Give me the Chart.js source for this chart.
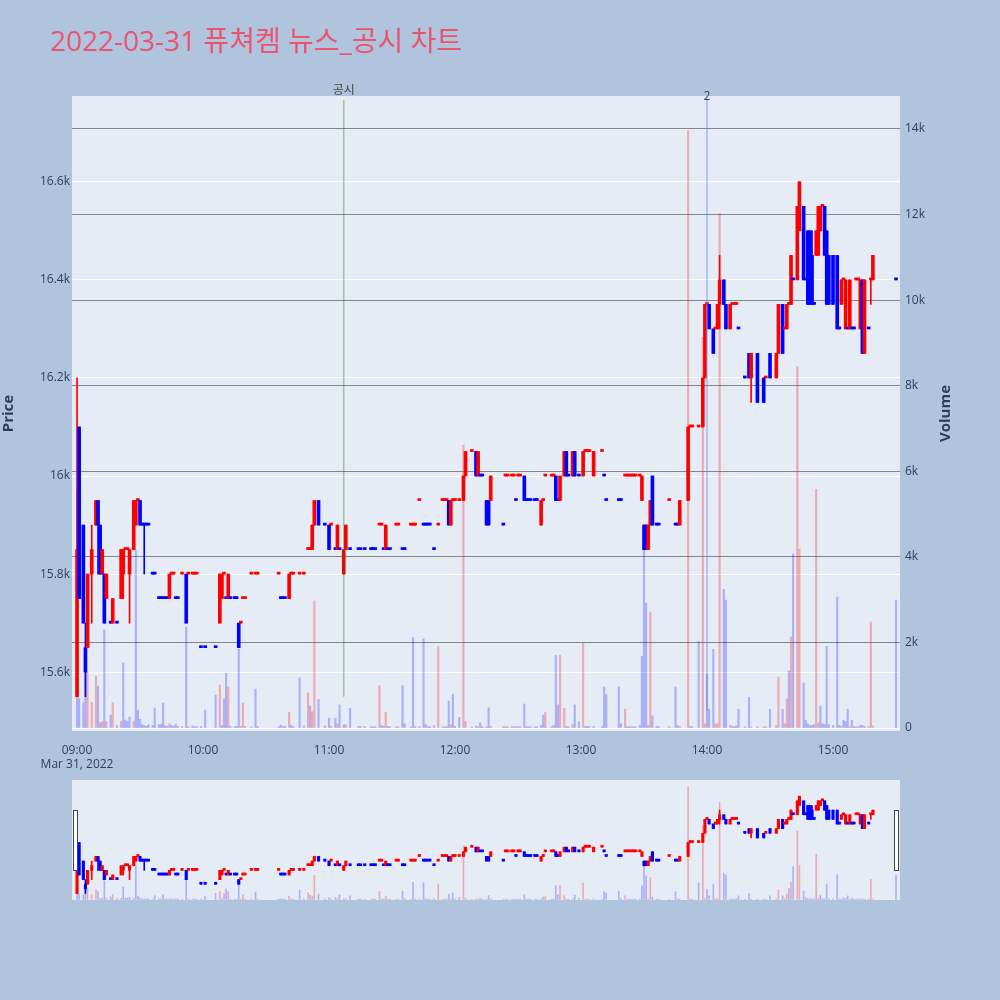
<!DOCTYPE html>
<html>
<head>
<meta charset="utf-8">
<script src="https://cdn.jsdelivr.net/npm/chart.js@4.4.1/dist/chart.umd.min.js"></script>
<style>
  html, body { margin: 0; padding: 0; background: #b0c4de; width: 1000px; height: 1000px; overflow: hidden; }
  canvas { position: absolute; }
</style>
</head>
<body>
<canvas id="main" width="1000" height="780" style="left:0;top:0"></canvas>
<canvas id="slider" width="828" height="120" style="left:72px;top:780px"></canvas>
<script>
// minutes after 09:00 for every traded minute
const minutes = [0,1,3,4,5,7,9,10,11,12,
  13,14,16,17,19,21,22,23,24,25,
  27,28,29,30,31,32,33,34,36,37,
  39,40,41,42,43,44,45,46,47,48,
  50,52,53,55,56,57,59,61,66,68,
  69,70,71,72,73,75,76,77,78,79,
  80,83,85,86,96,97,98,99,101,102,
  103,106,108,110,111,112,113,115,118,120,
  121,123,124,125,127,128,130,134,135,137,
  140,141,142,144,145,146,147,148,149,152,
  153,155,156,159,160,161,163,165,166,167,
  168,170,172,174,175,176,177,178,179,180,
  182,184,185,188,190,191,192,193,195,196,
  197,203,204,205,207,208,209,210,211,213,
  214,215,216,218,219,221,222,223,226,227,
  228,229,230,232,233,234,236,237,239,241,
  242,243,244,246,250,251,252,258,259,261,
  262,263,264,265,266,268,269,270,271,272,
  273,274,276,277,282,285,286,287,291,292,
  293,296,298,299,300,301,303,304,305,306,
  308,309,311,312,313,314,315,318,320,321,
  324,327,328,330,333,334,336,337,338,339,
  340,341,343,344,346,347,348,349,350,351,
  352,353,354,355,356,357,358,360,362,363,
  364,365,366,367,368,369,370,371,372,373,
  374,375,377,378,379,390];

const opens = [15550,16100,15900,15650,15650,15800,15900,15950,15900,15800,
  15800,15750,15700,15700,15700,15750,15800,15850,15850,15800,
  15850,15900,15950,15950,15900,15900,15900,15900,15800,15800,
  15750,15750,15750,15750,15750,15750,15800,15800,15750,15750,
  15800,15800,15800,15800,15800,15800,15650,15650,15650,15700,
  15750,15800,15750,15750,15750,15750,15750,15700,15700,15750,
  15750,15800,15800,15800,15800,15750,15750,15750,15750,15800,
  15800,15800,15800,15850,15850,15850,15900,15950,15900,15900,
  15900,15850,15850,15850,15800,15850,15850,15850,15850,15850,
  15850,15850,15850,15900,15900,15850,15850,15850,15850,15900,
  15900,15850,15850,15900,15900,15900,15950,15900,15900,15900,
  15900,15850,15900,15950,15950,15950,15950,15900,15950,15950,
  15950,15950,16000,16050,16050,16000,16000,16000,15950,15950,
  15950,15900,16000,16000,16000,16000,15950,16000,16000,16000,
  15950,15950,15950,15950,15950,15900,15950,16000,16000,16000,
  16000,15950,15950,16000,16050,16000,16000,16050,16000,16000,
  16050,16050,16050,16000,16050,16000,15950,15950,15950,16000,
  16000,16000,16000,16000,16000,16000,15950,15900,15900,15850,
  15900,16000,15900,15900,15950,15900,15900,15900,15950,16100,
  16100,16100,16100,16200,16350,16350,16300,16300,16300,16350,
  16400,16350,16300,16350,16350,16350,16300,16200,16250,16200,
  16250,16200,16200,16250,16200,16250,16350,16300,16300,16350,
  16350,16400,16400,16500,16550,16400,16500,16500,16450,16350,
  16450,16450,16500,16550,16550,16500,16450,16450,16450,16300,
  16350,16400,16300,16300,16300,16300,16300,16400,16400,16300,
  16400,16250,16300,16400,16400,16400];

const highs = [16200,16100,15900,15700,15800,15900,15950,15950,15900,15850,
  15800,15800,15700,15750,15700,15850,15850,15850,15850,15850,
  15950,15950,15950,15950,15900,15900,15900,15900,15800,15800,
  15750,15750,15750,15750,15750,15800,15800,15800,15750,15750,
  15800,15800,15800,15800,15800,15800,15650,15650,15650,15800,
  15800,15800,15750,15800,15750,15750,15750,15700,15700,15750,
  15750,15800,15800,15800,15800,15750,15750,15750,15800,15800,
  15800,15800,15800,15850,15850,15900,15950,15950,15900,15900,
  15900,15850,15900,15850,15850,15900,15850,15850,15850,15850,
  15850,15850,15850,15900,15900,15850,15900,15850,15850,15900,
  15900,15850,15850,15900,15900,15900,15950,15900,15900,15900,
  15900,15850,15900,15950,15950,15950,15950,15950,15950,15950,
  15950,16000,16050,16050,16050,16050,16000,16000,15950,15950,
  16000,15900,16000,16000,16000,16000,15950,16000,16000,16000,
  15950,15950,15950,15950,15950,15950,15950,16000,16000,16000,
  16000,15950,16000,16050,16050,16000,16050,16050,16000,16050,
  16050,16050,16050,16050,16050,16000,15950,15950,15950,16000,
  16000,16000,16000,16000,16000,16000,16000,15900,15900,15900,
  15950,16000,15900,15900,15950,15900,15900,15950,16100,16100,
  16100,16100,16200,16350,16350,16350,16300,16300,16350,16450,
  16400,16350,16350,16350,16350,16350,16300,16200,16250,16250,
  16250,16200,16200,16250,16250,16350,16350,16300,16350,16350,
  16450,16400,16550,16600,16550,16400,16500,16500,16500,16350,
  16500,16550,16550,16550,16550,16500,16450,16450,16450,16300,
  16400,16400,16400,16300,16400,16300,16300,16400,16400,16400,
  16400,16400,16300,16400,16450,16400];

const lows = [15550,15750,15700,15550,15650,15700,15900,15800,15800,15800,
  15700,15750,15700,15700,15700,15750,15750,15850,15850,15700,
  15850,15900,15950,15900,15900,15800,15900,15900,15800,15800,
  15750,15750,15750,15750,15750,15750,15800,15800,15750,15750,
  15800,15700,15800,15800,15800,15800,15650,15650,15650,15700,
  15750,15800,15750,15750,15750,15750,15750,15650,15700,15750,
  15750,15800,15800,15800,15800,15750,15750,15750,15750,15800,
  15800,15800,15800,15850,15850,15850,15900,15900,15900,15850,
  15900,15850,15850,15850,15800,15850,15850,15850,15850,15850,
  15850,15850,15850,15900,15900,15850,15850,15850,15850,15900,
  15900,15850,15850,15900,15900,15900,15950,15900,15900,15900,
  15900,15850,15900,15950,15950,15950,15900,15900,15950,15950,
  15950,15950,16000,16050,16000,16000,16000,16000,15900,15900,
  15950,15900,16000,16000,16000,16000,15950,16000,16000,15950,
  15950,15950,15950,15950,15950,15900,15950,16000,16000,16000,
  15950,15950,15950,16000,16000,16000,16000,16000,16000,16000,
  16050,16050,16050,16000,16050,16000,15950,15950,15950,16000,
  16000,16000,16000,16000,16000,16000,15950,15850,15850,15850,
  15900,15900,15900,15900,15950,15900,15900,15900,15950,16100,
  16100,16100,16100,16200,16350,16300,16250,16300,16300,16300,
  16350,16300,16300,16350,16350,16350,16300,16200,16200,16150,
  16150,16150,16200,16200,16200,16250,16250,16300,16300,16350,
  16350,16400,16400,16500,16400,16400,16350,16350,16350,16350,
  16450,16450,16500,16550,16450,16350,16350,16350,16300,16300,
  16350,16400,16300,16300,16300,16300,16300,16400,16400,16300,
  16250,16250,16300,16350,16400,16400];

const closes = [15850,15750,15700,15600,15800,15850,15950,15900,15800,15850,
  15700,15800,15700,15750,15700,15850,15850,15850,15850,15850,
  15950,15950,15950,15900,15900,15900,15900,15900,15800,15800,
  15750,15750,15750,15750,15750,15800,15800,15800,15750,15750,
  15800,15700,15800,15800,15800,15800,15650,15650,15650,15800,
  15800,15800,15750,15800,15750,15750,15750,15650,15700,15750,
  15750,15800,15800,15800,15800,15750,15750,15750,15800,15800,
  15800,15800,15800,15850,15850,15900,15950,15900,15900,15850,
  15900,15850,15900,15850,15850,15900,15850,15850,15850,15850,
  15850,15850,15850,15900,15900,15850,15900,15850,15850,15900,
  15900,15850,15850,15900,15900,15900,15950,15900,15900,15900,
  15900,15850,15900,15950,15950,15950,15900,15950,15950,15950,
  15950,16000,16050,16050,16000,16050,16000,16000,15900,15900,
  16000,15900,16000,16000,16000,16000,15950,16000,16000,15950,
  15950,15950,15950,15950,15950,15950,15950,16000,16000,16000,
  15950,15950,16000,16050,16000,16000,16050,16000,16000,16050,
  16050,16050,16050,16050,16050,16000,15950,15950,15950,16000,
  16000,16000,16000,16000,16000,16000,16000,15850,15850,15900,
  15950,15900,15900,15900,15950,15900,15900,15950,16100,16100,
  16100,16100,16200,16350,16350,16300,16250,16300,16350,16400,
  16350,16300,16350,16350,16350,16350,16300,16200,16200,16250,
  16150,16150,16200,16200,16250,16350,16250,16300,16350,16350,
  16450,16400,16550,16600,16400,16400,16350,16350,16350,16350,
  16500,16550,16550,16550,16450,16350,16350,16350,16300,16300,
  16400,16400,16400,16300,16400,16300,16300,16400,16400,16400,
  16250,16400,16300,16400,16450,16400];

const volumes = [5560,700,590,1420,1300,600,1210,980,120,150,
  2290,150,300,590,60,150,1520,190,150,260,
  160,4160,420,200,80,60,40,80,60,470,
  80,90,580,50,40,100,60,40,90,40,
  40,2360,30,50,30,30,40,420,770,1000,
  60,680,1280,960,40,30,40,1840,40,580,
  40,30,910,40,30,70,30,40,370,60,
  30,1170,50,820,510,380,2970,670,50,230,
  40,230,100,540,80,80,460,40,40,40,
  30,30,30,990,60,40,370,40,30,30,
  30,990,100,30,2120,30,40,2080,80,30,
  30,60,1900,30,30,30,630,80,790,40,
  250,6610,150,30,50,30,120,30,30,470,
  40,30,30,30,30,30,30,30,30,560,
  30,30,30,30,30,60,300,370,30,60,
  1700,540,1700,460,40,30,80,540,150,1980,
  30,40,30,40,30,960,780,960,100,440,
  30,30,30,30,30,60,1680,4200,2920,60,
  2700,280,40,30,30,960,60,30,13950,40,
  30,2030,9130,100,1260,440,1840,100,100,12030,
  3240,2990,60,40,30,50,440,30,720,30,
  30,30,30,440,60,1190,440,100,680,1330,
  2130,4070,8440,4180,1050,180,100,60,60,80,
  5580,120,510,100,80,1910,80,60,3060,60,
  40,180,150,440,30,180,30,30,30,60,
  60,40,30,2480,50,2990];

const priceTicks = [15600, 15800, 16000, 16200, 16400, 16600];
const volumeTicks = [0, 2000, 4000, 6000, 8000, 10000, 12000, 14000];
const hourTicks = [0, 60, 120, 180, 240, 300, 360];
const eventMinutes = [127, 300];
const eventLabels = ['공시', '2'];

const FONT = "'Open Sans', 'Noto Sans CJK KR', sans-serif";
const RED = '#ff0000', BLUE = '#0000ff';

// candle direction (plotly style: equal open/close compares with previous close)
const dirs = [];
for (let i = 0; i < closes.length; i++) {
  let d;
  if (closes[i] > opens[i]) d = 1;
  else if (closes[i] < opens[i]) d = -1;
  else if (i === 0) d = 1;
  else if (closes[i] > closes[i - 1]) d = 1;
  else if (closes[i] < closes[i - 1]) d = -1;
  else d = dirs[i - 1];
  dirs.push(d);
}
const volUp = closes.map((c, i) => i > 0 && c > closes[i - 1]);

const candleColor = ctx => dirs[ctx.dataIndex] > 0 ? RED : BLUE;
const volColor = ctx => volUp[ctx.dataIndex] ? 'rgba(255,0,0,0.28)' : 'rgba(0,0,255,0.25)';

const makeDatasets = (bodyW, volW) => [
  {
    label: 'body', yAxisID: 'y', order: 1, grouped: false,
    data: minutes.map((m, i) => ({ x: m, y: [opens[i], closes[i]] })),
    backgroundColor: candleColor, borderWidth: 0,
    barThickness: bodyW, minBarLength: 2
  },
  {
    label: 'wick', yAxisID: 'y', order: 2, grouped: false,
    data: minutes.map((m, i) => ({ x: m, y: [lows[i], highs[i]] })),
    backgroundColor: candleColor, borderWidth: 0,
    barThickness: 1
  },
  {
    label: 'volume', yAxisID: 'y2', order: 3, grouped: false,
    data: minutes.map((m, i) => ({ x: m, y: volumes[i] })),
    backgroundColor: volColor, borderWidth: 0,
    barThickness: volW
  }
];

const pad2 = n => String(n).padStart(2, '0');
const timeLabel = v => pad2(9 + Math.floor(v / 60)) + ':' + pad2(v % 60);

const mainDecor = {
  id: 'mainDecor',
  beforeDraw(chart) {
    const { ctx, chartArea: a } = chart;
    ctx.save();
    ctx.fillStyle = '#e5ecf6';
    ctx.fillRect(a.left, a.top, a.right - a.left, a.bottom - a.top);
    ctx.restore();
  },
  afterDatasetsDraw(chart) {
    const { ctx, chartArea: a, scales } = chart;
    ctx.save();
    eventMinutes.forEach((m, i) => {
      const x = scales.x.getPixelForValue(m);
      ctx.beginPath();
      if (i === 0) {
        ctx.strokeStyle = 'rgba(0,128,0,0.35)';
        ctx.lineWidth = 1.5;
        ctx.moveTo(x, a.top + 4);
        ctx.lineTo(x, scales.y.getPixelForValue(15550));
      } else {
        ctx.strokeStyle = 'rgba(80,120,255,0.45)';
        ctx.lineWidth = 1.5;
        ctx.moveTo(x, a.top);
        ctx.lineTo(x, a.bottom - 20);
      }
      ctx.stroke();
      ctx.fillStyle = '#444';
      ctx.font = '12px ' + FONT;
      ctx.textAlign = 'center';
      ctx.textBaseline = 'middle';
      ctx.fillText(eventLabels[i], x, i === 0 ? a.top - 5 : a.top + 1);
    });
    ctx.restore();
  },
  afterDraw(chart) {
    const { ctx, chartArea: a } = chart;
    ctx.save();
    ctx.fillStyle = 'rgb(234,84,110)';
    ctx.font = '28px ' + FONT;
    ctx.textAlign = 'left';
    ctx.textBaseline = 'alphabetic';
    ctx.fillText('2022-03-31 퓨쳐켐 뉴스_공시 차트', 50, 51);

    ctx.fillStyle = '#2a3f5f';
    ctx.font = 'bold 15px ' + FONT;
    ctx.textAlign = 'center';
    ctx.textBaseline = 'middle';
    const midY = (a.top + a.bottom) / 2;
    ctx.translate(9, midY);
    ctx.rotate(-Math.PI / 2);
    ctx.fillText('Price', 0, 0);
    ctx.setTransform(1, 0, 0, 1, 0, 0);
    ctx.translate(946, midY);
    ctx.rotate(-Math.PI / 2);
    ctx.fillText('Volume', 0, 0);
    ctx.restore();
  }
};

const tickFont = { family: FONT, size: 12 };

new Chart(document.getElementById('main'), {
  type: 'bar',
  data: { datasets: makeDatasets(3, 1.5) },
  options: {
    responsive: false,
    animation: false,
    layout: { padding: { top: 96, right: 45, left: 0, bottom: 0 } },
    plugins: { legend: { display: false }, tooltip: { enabled: false } },
    scales: {
      x: {
        type: 'linear', min: -2.4, max: 391.9, offset: false,
        grid: { display: false }, border: { display: false },
        afterBuildTicks: s => { s.ticks = hourTicks.map(v => ({ value: v })); },
        afterFit: s => { s.height = 49; },
        ticks: {
          autoSkip: false, maxRotation: 0, padding: 4, color: '#2a3f5f', font: tickFont,
          callback: v => v === 0 ? [timeLabel(v), 'Mar 31, 2022'] : timeLabel(v)
        }
      },
      y: {
        position: 'left', min: 15480, max: 16775,
        grid: { color: '#ffffff', lineWidth: 1, drawTicks: false }, border: { display: false },
        afterBuildTicks: s => { s.ticks = priceTicks.map(v => ({ value: v })); },
        afterFit: s => { s.width = 72; },
        ticks: { padding: 2, color: '#2a3f5f', font: tickFont, callback: v => (v / 1000) + 'k' }
      },
      y2: {
        position: 'right', min: -70, max: 14771,
        grid: {
          color: ctx => ctx.tick && ctx.tick.value === 0 ? '#ffffff' : 'rgba(100,100,100,0.75)',
          lineWidth: 1, drawTicks: false
        },
        border: { display: false },
        afterBuildTicks: s => { s.ticks = volumeTicks.map(v => ({ value: v })); },
        afterFit: s => { s.width = 55; },
        ticks: { padding: 5, color: '#2a3f5f', font: tickFont, callback: v => v === 0 ? '0' : (v / 1000) + 'k' }
      }
    }
  },
  plugins: [mainDecor]
});

// range slider preview
const sliderDecor = {
  id: 'sliderDecor',
  beforeDraw(chart) {
    const { ctx, width, height } = chart;
    ctx.save();
    ctx.fillStyle = '#e5ecf6';
    ctx.fillRect(0, 0, width, height);
    ctx.restore();
  },
  afterDraw(chart) {
    const { ctx, width } = chart;
    ctx.save();
    ctx.fillStyle = '#ffffff';
    ctx.strokeStyle = '#444';
    ctx.lineWidth = 1;
    [1.5, width - 5.5].forEach(x => {
      ctx.fillRect(x, 30.5, 4, 60);
      ctx.strokeRect(x, 30.5, 4, 60);
    });
    ctx.restore();
  }
};

new Chart(document.getElementById('slider'), {
  type: 'bar',
  data: { datasets: makeDatasets(2.5, 1) },
  options: {
    responsive: false,
    animation: false,
    layout: { padding: 0 },
    plugins: { legend: { display: false }, tooltip: { enabled: false } },
    scales: {
      x: { type: 'linear', min: -2.4, max: 391.9, offset: false, display: false },
      y: { min: 15480, max: 16775, display: false },
      y2: { min: -70, max: 14771, display: false }
    }
  },
  plugins: [sliderDecor]
});
</script>
</body>
</html>
